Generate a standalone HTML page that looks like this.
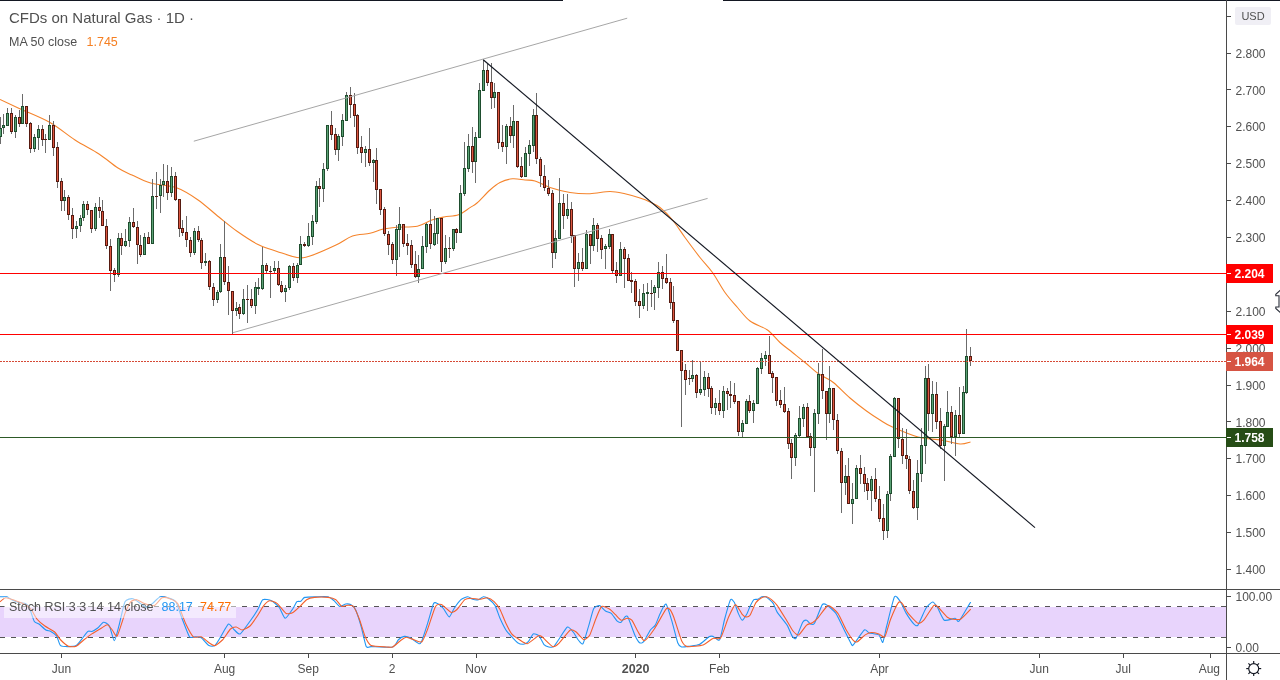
<!DOCTYPE html><html><head><meta charset="utf-8"><style>html,body{margin:0;padding:0;background:#fff;width:1280px;height:680px;overflow:hidden}svg{display:block}text{font-family:"Liberation Sans",sans-serif}svg{will-change:transform}</style></head><body>
<svg width="1280" height="680" viewBox="0 0 1280 680">
<rect x="0" y="0" width="1280" height="680" fill="#ffffff"/>
<g shape-rendering="crispEdges">
<rect x="0" y="0" width="563" height="1" fill="#131722"/>
<rect x="723" y="0" width="557" height="1" fill="#131722"/>
</g>
<path d="M0.00,99.40 C3.33,100.96 11.67,104.90 20.00,108.75 C28.33,112.60 40.83,117.29 50.00,122.50 C59.17,127.71 66.83,134.75 75.00,140.00 C83.17,145.25 91.83,149.33 99.00,154.00 C106.17,158.67 112.50,164.50 118.00,168.00 C123.50,171.50 126.57,172.50 132.00,175.00 C137.43,177.50 143.18,180.87 150.60,183.00 C158.02,185.13 168.65,185.02 176.50,187.80 C184.35,190.58 190.63,194.83 197.70,199.70 C204.77,204.57 212.28,211.70 218.90,217.00 C225.52,222.30 230.78,226.87 237.40,231.50 C244.02,236.13 252.00,241.48 258.60,244.80 C265.20,248.12 270.60,249.28 277.00,251.40 C283.40,253.52 291.50,256.73 297.00,257.50 C302.50,258.27 303.50,258.08 310.00,256.00 C316.50,253.92 328.92,248.33 336.00,245.00 C343.08,241.67 346.83,237.95 352.50,236.00 C358.17,234.05 365.03,234.43 370.00,233.30 C374.97,232.17 377.83,230.22 382.30,229.20 C386.77,228.18 390.97,227.70 396.80,227.20 C402.63,226.70 411.47,227.40 417.30,226.20 C423.13,225.00 427.35,221.53 431.80,220.00 C436.25,218.47 439.55,217.87 444.00,217.00 C448.45,216.13 454.17,216.37 458.50,214.80 C462.83,213.23 466.92,209.57 470.00,207.60 C473.08,205.63 473.67,205.93 477.00,203.00 C480.33,200.07 486.17,193.42 490.00,190.00 C493.83,186.58 496.25,184.38 500.00,182.50 C503.75,180.62 508.33,179.17 512.50,178.75 C516.67,178.33 521.25,179.62 525.00,180.00 C528.75,180.38 530.83,179.75 535.00,181.00 C539.17,182.25 544.17,185.58 550.00,187.50 C555.83,189.42 563.33,191.46 570.00,192.50 C576.67,193.54 583.33,193.92 590.00,193.75 C596.67,193.58 604.17,191.50 610.00,191.50 C615.83,191.50 620.00,192.67 625.00,193.75 C630.00,194.83 635.83,196.62 640.00,198.00 C644.17,199.38 646.67,200.42 650.00,202.00 C653.33,203.58 656.25,204.50 660.00,207.50 C663.75,210.50 668.33,215.00 672.50,220.00 C676.67,225.00 680.42,231.25 685.00,237.50 C689.58,243.75 695.42,251.67 700.00,257.50 C704.58,263.33 708.33,266.67 712.50,272.50 C716.67,278.33 720.83,286.67 725.00,292.50 C729.17,298.33 733.33,302.75 737.50,307.50 C741.67,312.25 745.00,317.25 750.00,321.00 C755.00,324.75 762.50,326.42 767.50,330.00 C772.50,333.58 775.83,338.75 780.00,342.50 C784.17,346.25 788.33,349.17 792.50,352.50 C796.67,355.83 800.83,359.08 805.00,362.50 C809.17,365.92 814.17,370.50 817.50,373.00 C820.83,375.50 822.25,375.83 825.00,377.50 C827.75,379.17 829.83,379.58 834.00,383.00 C838.17,386.42 844.58,393.33 850.00,398.00 C855.42,402.67 861.50,407.33 866.50,411.00 C871.50,414.67 875.68,417.33 880.00,420.00 C884.32,422.67 886.07,424.17 892.40,427.00 C898.73,429.83 909.90,434.83 918.00,437.00 C926.10,439.17 934.00,438.83 941.00,440.00 C948.00,441.17 955.08,443.67 960.00,444.00 C964.92,444.33 968.75,442.33 970.50,442.00" fill="none" stroke="#f5842c" stroke-width="1.1"/>
<g shape-rendering="crispEdges">
<rect x="0" y="117" width="1" height="27" fill="#6b6b6b"/>
<rect x="-1" y="128" width="3" height="9" fill="#1e4d2e"/>
<rect x="0" y="129" width="1" height="7" fill="#5aa275"/>
<rect x="3" y="114" width="1" height="20" fill="#6b6b6b"/>
<rect x="2" y="125" width="3" height="3" fill="#1e4d2e"/>
<rect x="3" y="126" width="1" height="1" fill="#5aa275"/>
<rect x="7" y="108" width="1" height="18" fill="#6b6b6b"/>
<rect x="6" y="113" width="3" height="13" fill="#1e4d2e"/>
<rect x="7" y="114" width="1" height="11" fill="#5aa275"/>
<rect x="11" y="108" width="1" height="26" fill="#6b6b6b"/>
<rect x="10" y="113" width="3" height="19" fill="#561a10"/>
<rect x="11" y="114" width="1" height="17" fill="#dc5640"/>
<rect x="15" y="115" width="1" height="23" fill="#6b6b6b"/>
<rect x="14" y="117" width="3" height="15" fill="#1e4d2e"/>
<rect x="15" y="118" width="1" height="13" fill="#5aa275"/>
<rect x="19" y="110" width="1" height="17" fill="#6b6b6b"/>
<rect x="18" y="117" width="3" height="7" fill="#561a10"/>
<rect x="19" y="118" width="1" height="5" fill="#dc5640"/>
<rect x="22" y="94" width="1" height="30" fill="#6b6b6b"/>
<rect x="21" y="106" width="3" height="18" fill="#1e4d2e"/>
<rect x="22" y="107" width="1" height="16" fill="#5aa275"/>
<rect x="26" y="106" width="1" height="21" fill="#6b6b6b"/>
<rect x="25" y="106" width="3" height="18" fill="#561a10"/>
<rect x="26" y="107" width="1" height="16" fill="#dc5640"/>
<rect x="30" y="122" width="1" height="31" fill="#6b6b6b"/>
<rect x="29" y="123" width="3" height="26" fill="#561a10"/>
<rect x="30" y="124" width="1" height="24" fill="#dc5640"/>
<rect x="34" y="134" width="1" height="18" fill="#6b6b6b"/>
<rect x="33" y="137" width="3" height="12" fill="#1e4d2e"/>
<rect x="34" y="138" width="1" height="10" fill="#5aa275"/>
<rect x="38" y="125" width="1" height="25" fill="#6b6b6b"/>
<rect x="37" y="129" width="3" height="9" fill="#1e4d2e"/>
<rect x="38" y="130" width="1" height="7" fill="#5aa275"/>
<rect x="42" y="125" width="1" height="21" fill="#6b6b6b"/>
<rect x="41" y="129" width="3" height="11" fill="#561a10"/>
<rect x="42" y="130" width="1" height="9" fill="#dc5640"/>
<rect x="45" y="134" width="1" height="19" fill="#6b6b6b"/>
<rect x="44" y="139" width="3" height="1" fill="#561a10"/>
<rect x="49" y="115" width="1" height="25" fill="#6b6b6b"/>
<rect x="48" y="125" width="3" height="15" fill="#1e4d2e"/>
<rect x="49" y="126" width="1" height="13" fill="#5aa275"/>
<rect x="53" y="121" width="1" height="35" fill="#6b6b6b"/>
<rect x="52" y="125" width="3" height="23" fill="#561a10"/>
<rect x="53" y="126" width="1" height="21" fill="#dc5640"/>
<rect x="57" y="142" width="1" height="46" fill="#6b6b6b"/>
<rect x="56" y="147" width="3" height="35" fill="#561a10"/>
<rect x="57" y="148" width="1" height="33" fill="#dc5640"/>
<rect x="61" y="178" width="1" height="33" fill="#6b6b6b"/>
<rect x="60" y="181" width="3" height="20" fill="#561a10"/>
<rect x="61" y="182" width="1" height="18" fill="#dc5640"/>
<rect x="64" y="190" width="1" height="21" fill="#6b6b6b"/>
<rect x="63" y="197" width="3" height="4" fill="#1e4d2e"/>
<rect x="64" y="198" width="1" height="2" fill="#5aa275"/>
<rect x="68" y="195" width="1" height="25" fill="#6b6b6b"/>
<rect x="67" y="197" width="3" height="18" fill="#561a10"/>
<rect x="68" y="198" width="1" height="16" fill="#dc5640"/>
<rect x="72" y="208" width="1" height="31" fill="#6b6b6b"/>
<rect x="71" y="215" width="3" height="14" fill="#561a10"/>
<rect x="72" y="216" width="1" height="12" fill="#dc5640"/>
<rect x="76" y="221" width="1" height="17" fill="#6b6b6b"/>
<rect x="75" y="226" width="3" height="3" fill="#1e4d2e"/>
<rect x="76" y="227" width="1" height="1" fill="#5aa275"/>
<rect x="80" y="215" width="1" height="17" fill="#6b6b6b"/>
<rect x="79" y="218" width="3" height="8" fill="#1e4d2e"/>
<rect x="80" y="219" width="1" height="6" fill="#5aa275"/>
<rect x="83" y="201" width="1" height="20" fill="#6b6b6b"/>
<rect x="82" y="204" width="3" height="14" fill="#1e4d2e"/>
<rect x="83" y="205" width="1" height="12" fill="#5aa275"/>
<rect x="87" y="201" width="1" height="14" fill="#6b6b6b"/>
<rect x="86" y="204" width="3" height="6" fill="#561a10"/>
<rect x="87" y="205" width="1" height="4" fill="#dc5640"/>
<rect x="91" y="210" width="1" height="23" fill="#6b6b6b"/>
<rect x="90" y="210" width="3" height="19" fill="#561a10"/>
<rect x="91" y="211" width="1" height="17" fill="#dc5640"/>
<rect x="95" y="203" width="1" height="28" fill="#6b6b6b"/>
<rect x="94" y="207" width="3" height="22" fill="#1e4d2e"/>
<rect x="95" y="208" width="1" height="20" fill="#5aa275"/>
<rect x="99" y="197" width="1" height="21" fill="#6b6b6b"/>
<rect x="98" y="207" width="3" height="4" fill="#561a10"/>
<rect x="99" y="208" width="1" height="2" fill="#dc5640"/>
<rect x="102" y="200" width="1" height="26" fill="#6b6b6b"/>
<rect x="101" y="211" width="3" height="15" fill="#561a10"/>
<rect x="102" y="212" width="1" height="13" fill="#dc5640"/>
<rect x="106" y="219" width="1" height="30" fill="#6b6b6b"/>
<rect x="105" y="226" width="3" height="20" fill="#561a10"/>
<rect x="106" y="227" width="1" height="18" fill="#dc5640"/>
<rect x="110" y="239" width="1" height="52" fill="#6b6b6b"/>
<rect x="109" y="246" width="3" height="25" fill="#561a10"/>
<rect x="110" y="247" width="1" height="23" fill="#dc5640"/>
<rect x="114" y="268" width="1" height="14" fill="#6b6b6b"/>
<rect x="113" y="270" width="3" height="5" fill="#561a10"/>
<rect x="114" y="271" width="1" height="3" fill="#dc5640"/>
<rect x="118" y="233" width="1" height="44" fill="#6b6b6b"/>
<rect x="117" y="238" width="3" height="37" fill="#1e4d2e"/>
<rect x="118" y="239" width="1" height="35" fill="#5aa275"/>
<rect x="121" y="233" width="1" height="22" fill="#6b6b6b"/>
<rect x="120" y="238" width="3" height="8" fill="#561a10"/>
<rect x="121" y="239" width="1" height="6" fill="#dc5640"/>
<rect x="125" y="229" width="1" height="18" fill="#6b6b6b"/>
<rect x="124" y="241" width="3" height="5" fill="#1e4d2e"/>
<rect x="125" y="242" width="1" height="3" fill="#5aa275"/>
<rect x="129" y="217" width="1" height="30" fill="#6b6b6b"/>
<rect x="128" y="222" width="3" height="19" fill="#1e4d2e"/>
<rect x="129" y="223" width="1" height="17" fill="#5aa275"/>
<rect x="133" y="208" width="1" height="20" fill="#6b6b6b"/>
<rect x="132" y="222" width="3" height="5" fill="#561a10"/>
<rect x="133" y="223" width="1" height="3" fill="#dc5640"/>
<rect x="137" y="221" width="1" height="43" fill="#6b6b6b"/>
<rect x="136" y="227" width="3" height="18" fill="#561a10"/>
<rect x="137" y="228" width="1" height="16" fill="#dc5640"/>
<rect x="140" y="235" width="1" height="22" fill="#6b6b6b"/>
<rect x="139" y="245" width="3" height="10" fill="#561a10"/>
<rect x="140" y="246" width="1" height="8" fill="#dc5640"/>
<rect x="144" y="233" width="1" height="22" fill="#6b6b6b"/>
<rect x="143" y="237" width="3" height="18" fill="#1e4d2e"/>
<rect x="144" y="238" width="1" height="16" fill="#5aa275"/>
<rect x="148" y="232" width="1" height="12" fill="#6b6b6b"/>
<rect x="147" y="237" width="3" height="7" fill="#561a10"/>
<rect x="148" y="238" width="1" height="5" fill="#dc5640"/>
<rect x="152" y="179" width="1" height="65" fill="#6b6b6b"/>
<rect x="151" y="196" width="3" height="48" fill="#1e4d2e"/>
<rect x="152" y="197" width="1" height="46" fill="#5aa275"/>
<rect x="156" y="172" width="1" height="37" fill="#6b6b6b"/>
<rect x="155" y="196" width="3" height="1" fill="#561a10"/>
<rect x="160" y="179" width="1" height="34" fill="#6b6b6b"/>
<rect x="159" y="185" width="3" height="11" fill="#1e4d2e"/>
<rect x="160" y="186" width="1" height="9" fill="#5aa275"/>
<rect x="163" y="164" width="1" height="33" fill="#6b6b6b"/>
<rect x="162" y="181" width="3" height="4" fill="#1e4d2e"/>
<rect x="163" y="182" width="1" height="2" fill="#5aa275"/>
<rect x="167" y="165" width="1" height="35" fill="#6b6b6b"/>
<rect x="166" y="181" width="3" height="12" fill="#561a10"/>
<rect x="167" y="182" width="1" height="10" fill="#dc5640"/>
<rect x="171" y="167" width="1" height="30" fill="#6b6b6b"/>
<rect x="170" y="176" width="3" height="17" fill="#1e4d2e"/>
<rect x="171" y="177" width="1" height="15" fill="#5aa275"/>
<rect x="175" y="172" width="1" height="29" fill="#6b6b6b"/>
<rect x="174" y="176" width="3" height="24" fill="#561a10"/>
<rect x="175" y="177" width="1" height="22" fill="#dc5640"/>
<rect x="179" y="199" width="1" height="38" fill="#6b6b6b"/>
<rect x="178" y="199" width="3" height="30" fill="#561a10"/>
<rect x="179" y="200" width="1" height="28" fill="#dc5640"/>
<rect x="182" y="220" width="1" height="16" fill="#6b6b6b"/>
<rect x="181" y="228" width="3" height="5" fill="#561a10"/>
<rect x="182" y="229" width="1" height="3" fill="#dc5640"/>
<rect x="186" y="216" width="1" height="31" fill="#6b6b6b"/>
<rect x="185" y="232" width="3" height="8" fill="#561a10"/>
<rect x="186" y="233" width="1" height="6" fill="#dc5640"/>
<rect x="190" y="237" width="1" height="20" fill="#6b6b6b"/>
<rect x="189" y="240" width="3" height="13" fill="#561a10"/>
<rect x="190" y="241" width="1" height="11" fill="#dc5640"/>
<rect x="194" y="228" width="1" height="27" fill="#6b6b6b"/>
<rect x="193" y="231" width="3" height="22" fill="#1e4d2e"/>
<rect x="194" y="232" width="1" height="20" fill="#5aa275"/>
<rect x="198" y="226" width="1" height="16" fill="#6b6b6b"/>
<rect x="197" y="231" width="3" height="9" fill="#561a10"/>
<rect x="198" y="232" width="1" height="7" fill="#dc5640"/>
<rect x="201" y="238" width="1" height="31" fill="#6b6b6b"/>
<rect x="200" y="240" width="3" height="23" fill="#561a10"/>
<rect x="201" y="241" width="1" height="21" fill="#dc5640"/>
<rect x="205" y="253" width="1" height="13" fill="#6b6b6b"/>
<rect x="204" y="261" width="3" height="2" fill="#1e4d2e"/>
<rect x="209" y="260" width="1" height="30" fill="#6b6b6b"/>
<rect x="208" y="261" width="3" height="26" fill="#561a10"/>
<rect x="209" y="262" width="1" height="24" fill="#dc5640"/>
<rect x="213" y="283" width="1" height="23" fill="#6b6b6b"/>
<rect x="212" y="287" width="3" height="13" fill="#561a10"/>
<rect x="213" y="288" width="1" height="11" fill="#dc5640"/>
<rect x="217" y="290" width="1" height="13" fill="#6b6b6b"/>
<rect x="216" y="292" width="3" height="8" fill="#1e4d2e"/>
<rect x="217" y="293" width="1" height="6" fill="#5aa275"/>
<rect x="220" y="244" width="1" height="49" fill="#6b6b6b"/>
<rect x="219" y="257" width="3" height="35" fill="#1e4d2e"/>
<rect x="220" y="258" width="1" height="33" fill="#5aa275"/>
<rect x="224" y="221" width="1" height="64" fill="#6b6b6b"/>
<rect x="223" y="257" width="3" height="25" fill="#561a10"/>
<rect x="224" y="258" width="1" height="23" fill="#dc5640"/>
<rect x="228" y="266" width="1" height="49" fill="#6b6b6b"/>
<rect x="227" y="282" width="3" height="9" fill="#561a10"/>
<rect x="228" y="283" width="1" height="7" fill="#dc5640"/>
<rect x="232" y="291" width="1" height="43" fill="#6b6b6b"/>
<rect x="231" y="291" width="3" height="20" fill="#561a10"/>
<rect x="232" y="292" width="1" height="18" fill="#dc5640"/>
<rect x="236" y="302" width="1" height="14" fill="#6b6b6b"/>
<rect x="235" y="308" width="3" height="3" fill="#1e4d2e"/>
<rect x="236" y="309" width="1" height="1" fill="#5aa275"/>
<rect x="239" y="304" width="1" height="15" fill="#6b6b6b"/>
<rect x="238" y="307" width="3" height="7" fill="#561a10"/>
<rect x="239" y="308" width="1" height="5" fill="#dc5640"/>
<rect x="243" y="289" width="1" height="26" fill="#6b6b6b"/>
<rect x="242" y="299" width="3" height="15" fill="#1e4d2e"/>
<rect x="243" y="300" width="1" height="13" fill="#5aa275"/>
<rect x="247" y="285" width="1" height="38" fill="#6b6b6b"/>
<rect x="246" y="299" width="3" height="1" fill="#561a10"/>
<rect x="251" y="289" width="1" height="19" fill="#6b6b6b"/>
<rect x="250" y="299" width="3" height="7" fill="#561a10"/>
<rect x="251" y="300" width="1" height="5" fill="#dc5640"/>
<rect x="255" y="282" width="1" height="32" fill="#6b6b6b"/>
<rect x="254" y="287" width="3" height="19" fill="#1e4d2e"/>
<rect x="255" y="288" width="1" height="17" fill="#5aa275"/>
<rect x="258" y="278" width="1" height="17" fill="#6b6b6b"/>
<rect x="257" y="287" width="3" height="2" fill="#1e4d2e"/>
<rect x="262" y="247" width="1" height="43" fill="#6b6b6b"/>
<rect x="261" y="265" width="3" height="24" fill="#1e4d2e"/>
<rect x="262" y="266" width="1" height="22" fill="#5aa275"/>
<rect x="266" y="263" width="1" height="11" fill="#6b6b6b"/>
<rect x="265" y="265" width="3" height="6" fill="#561a10"/>
<rect x="266" y="266" width="1" height="4" fill="#dc5640"/>
<rect x="270" y="266" width="1" height="32" fill="#6b6b6b"/>
<rect x="269" y="271" width="3" height="1" fill="#561a10"/>
<rect x="274" y="261" width="1" height="13" fill="#6b6b6b"/>
<rect x="273" y="268" width="3" height="3" fill="#1e4d2e"/>
<rect x="274" y="269" width="1" height="1" fill="#5aa275"/>
<rect x="278" y="261" width="1" height="25" fill="#6b6b6b"/>
<rect x="277" y="268" width="3" height="17" fill="#561a10"/>
<rect x="278" y="269" width="1" height="15" fill="#dc5640"/>
<rect x="281" y="281" width="1" height="12" fill="#6b6b6b"/>
<rect x="280" y="285" width="3" height="7" fill="#561a10"/>
<rect x="281" y="286" width="1" height="5" fill="#dc5640"/>
<rect x="285" y="285" width="1" height="17" fill="#6b6b6b"/>
<rect x="284" y="288" width="3" height="4" fill="#1e4d2e"/>
<rect x="285" y="289" width="1" height="2" fill="#5aa275"/>
<rect x="289" y="265" width="1" height="25" fill="#6b6b6b"/>
<rect x="288" y="266" width="3" height="22" fill="#1e4d2e"/>
<rect x="289" y="267" width="1" height="20" fill="#5aa275"/>
<rect x="293" y="263" width="1" height="18" fill="#6b6b6b"/>
<rect x="292" y="266" width="3" height="12" fill="#561a10"/>
<rect x="293" y="267" width="1" height="10" fill="#dc5640"/>
<rect x="297" y="263" width="1" height="20" fill="#6b6b6b"/>
<rect x="296" y="265" width="3" height="13" fill="#1e4d2e"/>
<rect x="297" y="266" width="1" height="11" fill="#5aa275"/>
<rect x="300" y="236" width="1" height="29" fill="#6b6b6b"/>
<rect x="299" y="244" width="3" height="21" fill="#1e4d2e"/>
<rect x="300" y="245" width="1" height="19" fill="#5aa275"/>
<rect x="304" y="242" width="1" height="5" fill="#6b6b6b"/>
<rect x="303" y="244" width="3" height="2" fill="#561a10"/>
<rect x="308" y="223" width="1" height="24" fill="#6b6b6b"/>
<rect x="307" y="236" width="3" height="10" fill="#1e4d2e"/>
<rect x="308" y="237" width="1" height="8" fill="#5aa275"/>
<rect x="312" y="215" width="1" height="30" fill="#6b6b6b"/>
<rect x="311" y="221" width="3" height="16" fill="#1e4d2e"/>
<rect x="312" y="222" width="1" height="14" fill="#5aa275"/>
<rect x="316" y="181" width="1" height="43" fill="#6b6b6b"/>
<rect x="315" y="186" width="3" height="36" fill="#1e4d2e"/>
<rect x="316" y="187" width="1" height="34" fill="#5aa275"/>
<rect x="319" y="178" width="1" height="29" fill="#6b6b6b"/>
<rect x="318" y="186" width="3" height="3" fill="#561a10"/>
<rect x="319" y="187" width="1" height="1" fill="#dc5640"/>
<rect x="323" y="163" width="1" height="39" fill="#6b6b6b"/>
<rect x="322" y="169" width="3" height="20" fill="#1e4d2e"/>
<rect x="323" y="170" width="1" height="18" fill="#5aa275"/>
<rect x="327" y="125" width="1" height="46" fill="#6b6b6b"/>
<rect x="326" y="125" width="3" height="44" fill="#1e4d2e"/>
<rect x="327" y="126" width="1" height="42" fill="#5aa275"/>
<rect x="331" y="111" width="1" height="29" fill="#6b6b6b"/>
<rect x="330" y="125" width="3" height="10" fill="#561a10"/>
<rect x="331" y="126" width="1" height="8" fill="#dc5640"/>
<rect x="335" y="128" width="1" height="27" fill="#6b6b6b"/>
<rect x="334" y="134" width="3" height="16" fill="#561a10"/>
<rect x="335" y="135" width="1" height="14" fill="#dc5640"/>
<rect x="338" y="134" width="1" height="27" fill="#6b6b6b"/>
<rect x="337" y="136" width="3" height="14" fill="#1e4d2e"/>
<rect x="338" y="137" width="1" height="12" fill="#5aa275"/>
<rect x="342" y="114" width="1" height="32" fill="#6b6b6b"/>
<rect x="341" y="120" width="3" height="17" fill="#1e4d2e"/>
<rect x="342" y="121" width="1" height="15" fill="#5aa275"/>
<rect x="346" y="92" width="1" height="29" fill="#6b6b6b"/>
<rect x="345" y="95" width="3" height="26" fill="#1e4d2e"/>
<rect x="346" y="96" width="1" height="24" fill="#5aa275"/>
<rect x="350" y="87" width="1" height="31" fill="#6b6b6b"/>
<rect x="349" y="95" width="3" height="10" fill="#561a10"/>
<rect x="350" y="96" width="1" height="8" fill="#dc5640"/>
<rect x="354" y="93" width="1" height="34" fill="#6b6b6b"/>
<rect x="353" y="104" width="3" height="12" fill="#561a10"/>
<rect x="354" y="105" width="1" height="10" fill="#dc5640"/>
<rect x="357" y="114" width="1" height="40" fill="#6b6b6b"/>
<rect x="356" y="115" width="3" height="33" fill="#561a10"/>
<rect x="357" y="116" width="1" height="31" fill="#dc5640"/>
<rect x="361" y="136" width="1" height="27" fill="#6b6b6b"/>
<rect x="360" y="147" width="3" height="6" fill="#561a10"/>
<rect x="361" y="148" width="1" height="4" fill="#dc5640"/>
<rect x="365" y="146" width="1" height="21" fill="#6b6b6b"/>
<rect x="364" y="149" width="3" height="4" fill="#1e4d2e"/>
<rect x="365" y="150" width="1" height="2" fill="#5aa275"/>
<rect x="369" y="128" width="1" height="38" fill="#6b6b6b"/>
<rect x="368" y="149" width="3" height="14" fill="#561a10"/>
<rect x="369" y="150" width="1" height="12" fill="#dc5640"/>
<rect x="373" y="159" width="1" height="23" fill="#6b6b6b"/>
<rect x="372" y="160" width="3" height="3" fill="#1e4d2e"/>
<rect x="373" y="161" width="1" height="1" fill="#5aa275"/>
<rect x="376" y="148" width="1" height="56" fill="#6b6b6b"/>
<rect x="375" y="160" width="3" height="30" fill="#561a10"/>
<rect x="376" y="161" width="1" height="28" fill="#dc5640"/>
<rect x="380" y="189" width="1" height="26" fill="#6b6b6b"/>
<rect x="379" y="189" width="3" height="21" fill="#561a10"/>
<rect x="380" y="190" width="1" height="19" fill="#dc5640"/>
<rect x="384" y="207" width="1" height="29" fill="#6b6b6b"/>
<rect x="383" y="209" width="3" height="25" fill="#561a10"/>
<rect x="384" y="210" width="1" height="23" fill="#dc5640"/>
<rect x="388" y="231" width="1" height="24" fill="#6b6b6b"/>
<rect x="387" y="234" width="3" height="11" fill="#561a10"/>
<rect x="388" y="235" width="1" height="9" fill="#dc5640"/>
<rect x="392" y="242" width="1" height="22" fill="#6b6b6b"/>
<rect x="391" y="244" width="3" height="16" fill="#561a10"/>
<rect x="392" y="245" width="1" height="14" fill="#dc5640"/>
<rect x="396" y="225" width="1" height="51" fill="#6b6b6b"/>
<rect x="395" y="229" width="3" height="31" fill="#1e4d2e"/>
<rect x="396" y="230" width="1" height="29" fill="#5aa275"/>
<rect x="399" y="207" width="1" height="50" fill="#6b6b6b"/>
<rect x="398" y="224" width="3" height="6" fill="#1e4d2e"/>
<rect x="399" y="225" width="1" height="4" fill="#5aa275"/>
<rect x="403" y="224" width="1" height="23" fill="#6b6b6b"/>
<rect x="402" y="224" width="3" height="20" fill="#561a10"/>
<rect x="403" y="225" width="1" height="18" fill="#dc5640"/>
<rect x="407" y="234" width="1" height="21" fill="#6b6b6b"/>
<rect x="406" y="243" width="3" height="3" fill="#561a10"/>
<rect x="407" y="244" width="1" height="1" fill="#dc5640"/>
<rect x="411" y="240" width="1" height="28" fill="#6b6b6b"/>
<rect x="410" y="245" width="3" height="20" fill="#561a10"/>
<rect x="411" y="246" width="1" height="18" fill="#dc5640"/>
<rect x="415" y="251" width="1" height="27" fill="#6b6b6b"/>
<rect x="414" y="264" width="3" height="13" fill="#561a10"/>
<rect x="415" y="265" width="1" height="11" fill="#dc5640"/>
<rect x="418" y="255" width="1" height="28" fill="#6b6b6b"/>
<rect x="417" y="269" width="3" height="8" fill="#1e4d2e"/>
<rect x="418" y="270" width="1" height="6" fill="#5aa275"/>
<rect x="422" y="236" width="1" height="33" fill="#6b6b6b"/>
<rect x="421" y="246" width="3" height="23" fill="#1e4d2e"/>
<rect x="422" y="247" width="1" height="21" fill="#5aa275"/>
<rect x="426" y="223" width="1" height="30" fill="#6b6b6b"/>
<rect x="425" y="224" width="3" height="23" fill="#1e4d2e"/>
<rect x="426" y="225" width="1" height="21" fill="#5aa275"/>
<rect x="430" y="209" width="1" height="40" fill="#6b6b6b"/>
<rect x="429" y="224" width="3" height="20" fill="#561a10"/>
<rect x="430" y="225" width="1" height="18" fill="#dc5640"/>
<rect x="434" y="216" width="1" height="30" fill="#6b6b6b"/>
<rect x="433" y="233" width="3" height="12" fill="#1e4d2e"/>
<rect x="434" y="234" width="1" height="10" fill="#5aa275"/>
<rect x="437" y="218" width="1" height="26" fill="#6b6b6b"/>
<rect x="436" y="218" width="3" height="16" fill="#1e4d2e"/>
<rect x="437" y="219" width="1" height="14" fill="#5aa275"/>
<rect x="441" y="218" width="1" height="54" fill="#6b6b6b"/>
<rect x="440" y="218" width="3" height="44" fill="#561a10"/>
<rect x="441" y="219" width="1" height="42" fill="#dc5640"/>
<rect x="445" y="235" width="1" height="29" fill="#6b6b6b"/>
<rect x="444" y="248" width="3" height="14" fill="#1e4d2e"/>
<rect x="445" y="249" width="1" height="12" fill="#5aa275"/>
<rect x="449" y="237" width="1" height="21" fill="#6b6b6b"/>
<rect x="448" y="248" width="3" height="1" fill="#561a10"/>
<rect x="453" y="229" width="1" height="22" fill="#6b6b6b"/>
<rect x="452" y="229" width="3" height="20" fill="#1e4d2e"/>
<rect x="453" y="230" width="1" height="18" fill="#5aa275"/>
<rect x="456" y="228" width="1" height="15" fill="#6b6b6b"/>
<rect x="455" y="229" width="3" height="4" fill="#561a10"/>
<rect x="456" y="230" width="1" height="2" fill="#dc5640"/>
<rect x="460" y="185" width="1" height="48" fill="#6b6b6b"/>
<rect x="459" y="193" width="3" height="40" fill="#1e4d2e"/>
<rect x="460" y="194" width="1" height="38" fill="#5aa275"/>
<rect x="464" y="142" width="1" height="54" fill="#6b6b6b"/>
<rect x="463" y="168" width="3" height="26" fill="#1e4d2e"/>
<rect x="464" y="169" width="1" height="24" fill="#5aa275"/>
<rect x="468" y="134" width="1" height="38" fill="#6b6b6b"/>
<rect x="467" y="146" width="3" height="23" fill="#1e4d2e"/>
<rect x="468" y="147" width="1" height="21" fill="#5aa275"/>
<rect x="472" y="127" width="1" height="46" fill="#6b6b6b"/>
<rect x="471" y="146" width="3" height="16" fill="#561a10"/>
<rect x="472" y="147" width="1" height="14" fill="#dc5640"/>
<rect x="475" y="132" width="1" height="51" fill="#6b6b6b"/>
<rect x="474" y="137" width="3" height="25" fill="#1e4d2e"/>
<rect x="475" y="138" width="1" height="23" fill="#5aa275"/>
<rect x="479" y="83" width="1" height="55" fill="#6b6b6b"/>
<rect x="478" y="90" width="3" height="48" fill="#1e4d2e"/>
<rect x="479" y="91" width="1" height="46" fill="#5aa275"/>
<rect x="483" y="60" width="1" height="31" fill="#6b6b6b"/>
<rect x="482" y="70" width="3" height="21" fill="#1e4d2e"/>
<rect x="483" y="71" width="1" height="19" fill="#5aa275"/>
<rect x="487" y="64" width="1" height="22" fill="#6b6b6b"/>
<rect x="486" y="70" width="3" height="13" fill="#561a10"/>
<rect x="487" y="71" width="1" height="11" fill="#dc5640"/>
<rect x="491" y="63" width="1" height="46" fill="#6b6b6b"/>
<rect x="490" y="82" width="3" height="16" fill="#561a10"/>
<rect x="491" y="83" width="1" height="14" fill="#dc5640"/>
<rect x="494" y="83" width="1" height="25" fill="#6b6b6b"/>
<rect x="493" y="92" width="3" height="6" fill="#1e4d2e"/>
<rect x="494" y="93" width="1" height="4" fill="#5aa275"/>
<rect x="498" y="92" width="1" height="57" fill="#6b6b6b"/>
<rect x="497" y="92" width="3" height="51" fill="#561a10"/>
<rect x="498" y="93" width="1" height="49" fill="#dc5640"/>
<rect x="502" y="125" width="1" height="27" fill="#6b6b6b"/>
<rect x="501" y="142" width="3" height="5" fill="#561a10"/>
<rect x="502" y="143" width="1" height="3" fill="#dc5640"/>
<rect x="506" y="124" width="1" height="40" fill="#6b6b6b"/>
<rect x="505" y="126" width="3" height="21" fill="#1e4d2e"/>
<rect x="506" y="127" width="1" height="19" fill="#5aa275"/>
<rect x="510" y="117" width="1" height="26" fill="#6b6b6b"/>
<rect x="509" y="126" width="3" height="10" fill="#561a10"/>
<rect x="510" y="127" width="1" height="8" fill="#dc5640"/>
<rect x="513" y="105" width="1" height="43" fill="#6b6b6b"/>
<rect x="512" y="121" width="3" height="15" fill="#1e4d2e"/>
<rect x="513" y="122" width="1" height="13" fill="#5aa275"/>
<rect x="517" y="121" width="1" height="47" fill="#6b6b6b"/>
<rect x="516" y="121" width="3" height="46" fill="#561a10"/>
<rect x="517" y="122" width="1" height="44" fill="#dc5640"/>
<rect x="521" y="157" width="1" height="21" fill="#6b6b6b"/>
<rect x="520" y="166" width="3" height="11" fill="#561a10"/>
<rect x="521" y="167" width="1" height="9" fill="#dc5640"/>
<rect x="525" y="147" width="1" height="30" fill="#6b6b6b"/>
<rect x="524" y="153" width="3" height="24" fill="#1e4d2e"/>
<rect x="525" y="154" width="1" height="22" fill="#5aa275"/>
<rect x="529" y="140" width="1" height="26" fill="#6b6b6b"/>
<rect x="528" y="145" width="3" height="9" fill="#1e4d2e"/>
<rect x="529" y="146" width="1" height="7" fill="#5aa275"/>
<rect x="533" y="109" width="1" height="43" fill="#6b6b6b"/>
<rect x="532" y="115" width="3" height="31" fill="#1e4d2e"/>
<rect x="533" y="116" width="1" height="29" fill="#5aa275"/>
<rect x="536" y="93" width="1" height="71" fill="#6b6b6b"/>
<rect x="535" y="115" width="3" height="44" fill="#561a10"/>
<rect x="536" y="116" width="1" height="42" fill="#dc5640"/>
<rect x="540" y="157" width="1" height="30" fill="#6b6b6b"/>
<rect x="539" y="159" width="3" height="17" fill="#561a10"/>
<rect x="540" y="160" width="1" height="15" fill="#dc5640"/>
<rect x="544" y="165" width="1" height="26" fill="#6b6b6b"/>
<rect x="543" y="176" width="3" height="12" fill="#561a10"/>
<rect x="544" y="177" width="1" height="10" fill="#dc5640"/>
<rect x="548" y="180" width="1" height="16" fill="#6b6b6b"/>
<rect x="547" y="188" width="3" height="6" fill="#561a10"/>
<rect x="548" y="189" width="1" height="4" fill="#dc5640"/>
<rect x="552" y="190" width="1" height="78" fill="#6b6b6b"/>
<rect x="551" y="193" width="3" height="60" fill="#561a10"/>
<rect x="552" y="194" width="1" height="58" fill="#dc5640"/>
<rect x="555" y="230" width="1" height="29" fill="#6b6b6b"/>
<rect x="554" y="238" width="3" height="15" fill="#1e4d2e"/>
<rect x="555" y="239" width="1" height="13" fill="#5aa275"/>
<rect x="559" y="178" width="1" height="61" fill="#6b6b6b"/>
<rect x="558" y="203" width="3" height="36" fill="#1e4d2e"/>
<rect x="559" y="204" width="1" height="34" fill="#5aa275"/>
<rect x="563" y="194" width="1" height="35" fill="#6b6b6b"/>
<rect x="562" y="203" width="3" height="13" fill="#561a10"/>
<rect x="563" y="204" width="1" height="11" fill="#dc5640"/>
<rect x="567" y="194" width="1" height="25" fill="#6b6b6b"/>
<rect x="566" y="209" width="3" height="7" fill="#1e4d2e"/>
<rect x="567" y="210" width="1" height="5" fill="#5aa275"/>
<rect x="571" y="202" width="1" height="41" fill="#6b6b6b"/>
<rect x="570" y="209" width="3" height="27" fill="#561a10"/>
<rect x="571" y="210" width="1" height="25" fill="#dc5640"/>
<rect x="574" y="235" width="1" height="52" fill="#6b6b6b"/>
<rect x="573" y="235" width="3" height="34" fill="#561a10"/>
<rect x="574" y="236" width="1" height="32" fill="#dc5640"/>
<rect x="578" y="253" width="1" height="28" fill="#6b6b6b"/>
<rect x="577" y="262" width="3" height="7" fill="#1e4d2e"/>
<rect x="578" y="263" width="1" height="5" fill="#5aa275"/>
<rect x="582" y="248" width="1" height="23" fill="#6b6b6b"/>
<rect x="581" y="262" width="3" height="7" fill="#561a10"/>
<rect x="582" y="263" width="1" height="5" fill="#dc5640"/>
<rect x="586" y="230" width="1" height="39" fill="#6b6b6b"/>
<rect x="585" y="234" width="3" height="35" fill="#1e4d2e"/>
<rect x="586" y="235" width="1" height="33" fill="#5aa275"/>
<rect x="590" y="234" width="1" height="30" fill="#6b6b6b"/>
<rect x="589" y="234" width="3" height="12" fill="#561a10"/>
<rect x="590" y="235" width="1" height="10" fill="#dc5640"/>
<rect x="593" y="218" width="1" height="33" fill="#6b6b6b"/>
<rect x="592" y="225" width="3" height="21" fill="#1e4d2e"/>
<rect x="593" y="226" width="1" height="19" fill="#5aa275"/>
<rect x="597" y="223" width="1" height="29" fill="#6b6b6b"/>
<rect x="596" y="225" width="3" height="14" fill="#561a10"/>
<rect x="597" y="226" width="1" height="12" fill="#dc5640"/>
<rect x="601" y="235" width="1" height="24" fill="#6b6b6b"/>
<rect x="600" y="238" width="3" height="12" fill="#561a10"/>
<rect x="601" y="239" width="1" height="10" fill="#dc5640"/>
<rect x="605" y="244" width="1" height="25" fill="#6b6b6b"/>
<rect x="604" y="246" width="3" height="3" fill="#1e4d2e"/>
<rect x="605" y="247" width="1" height="1" fill="#5aa275"/>
<rect x="609" y="229" width="1" height="20" fill="#6b6b6b"/>
<rect x="608" y="234" width="3" height="13" fill="#1e4d2e"/>
<rect x="609" y="235" width="1" height="11" fill="#5aa275"/>
<rect x="612" y="234" width="1" height="39" fill="#6b6b6b"/>
<rect x="611" y="234" width="3" height="37" fill="#561a10"/>
<rect x="612" y="235" width="1" height="35" fill="#dc5640"/>
<rect x="616" y="262" width="1" height="21" fill="#6b6b6b"/>
<rect x="615" y="270" width="3" height="6" fill="#561a10"/>
<rect x="616" y="271" width="1" height="4" fill="#dc5640"/>
<rect x="620" y="242" width="1" height="34" fill="#6b6b6b"/>
<rect x="619" y="249" width="3" height="27" fill="#1e4d2e"/>
<rect x="620" y="250" width="1" height="25" fill="#5aa275"/>
<rect x="624" y="247" width="1" height="41" fill="#6b6b6b"/>
<rect x="623" y="249" width="3" height="10" fill="#561a10"/>
<rect x="624" y="250" width="1" height="8" fill="#dc5640"/>
<rect x="628" y="254" width="1" height="27" fill="#6b6b6b"/>
<rect x="627" y="258" width="3" height="23" fill="#561a10"/>
<rect x="628" y="259" width="1" height="21" fill="#dc5640"/>
<rect x="631" y="272" width="1" height="21" fill="#6b6b6b"/>
<rect x="630" y="280" width="3" height="2" fill="#561a10"/>
<rect x="635" y="279" width="1" height="27" fill="#6b6b6b"/>
<rect x="634" y="281" width="3" height="21" fill="#561a10"/>
<rect x="635" y="282" width="1" height="19" fill="#dc5640"/>
<rect x="639" y="289" width="1" height="29" fill="#6b6b6b"/>
<rect x="638" y="301" width="3" height="5" fill="#561a10"/>
<rect x="639" y="302" width="1" height="3" fill="#dc5640"/>
<rect x="643" y="284" width="1" height="25" fill="#6b6b6b"/>
<rect x="642" y="293" width="3" height="13" fill="#1e4d2e"/>
<rect x="643" y="294" width="1" height="11" fill="#5aa275"/>
<rect x="647" y="283" width="1" height="28" fill="#6b6b6b"/>
<rect x="646" y="292" width="3" height="2" fill="#1e4d2e"/>
<rect x="651" y="280" width="1" height="27" fill="#6b6b6b"/>
<rect x="650" y="293" width="3" height="1" fill="#561a10"/>
<rect x="654" y="285" width="1" height="25" fill="#6b6b6b"/>
<rect x="653" y="287" width="3" height="6" fill="#1e4d2e"/>
<rect x="654" y="288" width="1" height="4" fill="#5aa275"/>
<rect x="658" y="262" width="1" height="36" fill="#6b6b6b"/>
<rect x="657" y="272" width="3" height="16" fill="#1e4d2e"/>
<rect x="658" y="273" width="1" height="14" fill="#5aa275"/>
<rect x="662" y="266" width="1" height="23" fill="#6b6b6b"/>
<rect x="661" y="272" width="3" height="7" fill="#561a10"/>
<rect x="662" y="273" width="1" height="5" fill="#dc5640"/>
<rect x="666" y="254" width="1" height="30" fill="#6b6b6b"/>
<rect x="665" y="278" width="3" height="5" fill="#561a10"/>
<rect x="666" y="279" width="1" height="3" fill="#dc5640"/>
<rect x="670" y="278" width="1" height="31" fill="#6b6b6b"/>
<rect x="669" y="282" width="3" height="21" fill="#561a10"/>
<rect x="670" y="283" width="1" height="19" fill="#dc5640"/>
<rect x="673" y="286" width="1" height="37" fill="#6b6b6b"/>
<rect x="672" y="302" width="3" height="19" fill="#561a10"/>
<rect x="673" y="303" width="1" height="17" fill="#dc5640"/>
<rect x="677" y="320" width="1" height="31" fill="#6b6b6b"/>
<rect x="676" y="320" width="3" height="31" fill="#561a10"/>
<rect x="677" y="321" width="1" height="29" fill="#dc5640"/>
<rect x="681" y="350" width="1" height="77" fill="#6b6b6b"/>
<rect x="680" y="350" width="3" height="21" fill="#561a10"/>
<rect x="681" y="351" width="1" height="19" fill="#dc5640"/>
<rect x="685" y="364" width="1" height="31" fill="#6b6b6b"/>
<rect x="684" y="370" width="3" height="10" fill="#561a10"/>
<rect x="685" y="371" width="1" height="8" fill="#dc5640"/>
<rect x="689" y="370" width="1" height="15" fill="#6b6b6b"/>
<rect x="688" y="378" width="3" height="1" fill="#561a10"/>
<rect x="692" y="360" width="1" height="22" fill="#6b6b6b"/>
<rect x="691" y="375" width="3" height="4" fill="#1e4d2e"/>
<rect x="692" y="376" width="1" height="2" fill="#5aa275"/>
<rect x="696" y="374" width="1" height="24" fill="#6b6b6b"/>
<rect x="695" y="375" width="3" height="18" fill="#561a10"/>
<rect x="696" y="376" width="1" height="16" fill="#dc5640"/>
<rect x="700" y="362" width="1" height="33" fill="#6b6b6b"/>
<rect x="699" y="389" width="3" height="4" fill="#1e4d2e"/>
<rect x="700" y="390" width="1" height="2" fill="#5aa275"/>
<rect x="704" y="371" width="1" height="25" fill="#6b6b6b"/>
<rect x="703" y="377" width="3" height="13" fill="#1e4d2e"/>
<rect x="704" y="378" width="1" height="11" fill="#5aa275"/>
<rect x="708" y="373" width="1" height="24" fill="#6b6b6b"/>
<rect x="707" y="377" width="3" height="12" fill="#561a10"/>
<rect x="708" y="378" width="1" height="10" fill="#dc5640"/>
<rect x="711" y="386" width="1" height="28" fill="#6b6b6b"/>
<rect x="710" y="388" width="3" height="20" fill="#561a10"/>
<rect x="711" y="389" width="1" height="18" fill="#dc5640"/>
<rect x="715" y="398" width="1" height="17" fill="#6b6b6b"/>
<rect x="714" y="403" width="3" height="5" fill="#1e4d2e"/>
<rect x="715" y="404" width="1" height="3" fill="#5aa275"/>
<rect x="719" y="390" width="1" height="25" fill="#6b6b6b"/>
<rect x="718" y="403" width="3" height="8" fill="#561a10"/>
<rect x="719" y="404" width="1" height="6" fill="#dc5640"/>
<rect x="723" y="386" width="1" height="32" fill="#6b6b6b"/>
<rect x="722" y="391" width="3" height="20" fill="#1e4d2e"/>
<rect x="723" y="392" width="1" height="18" fill="#5aa275"/>
<rect x="727" y="388" width="1" height="22" fill="#6b6b6b"/>
<rect x="726" y="391" width="3" height="3" fill="#561a10"/>
<rect x="727" y="392" width="1" height="1" fill="#dc5640"/>
<rect x="730" y="381" width="1" height="27" fill="#6b6b6b"/>
<rect x="729" y="394" width="3" height="2" fill="#561a10"/>
<rect x="734" y="383" width="1" height="21" fill="#6b6b6b"/>
<rect x="733" y="395" width="3" height="7" fill="#561a10"/>
<rect x="734" y="396" width="1" height="5" fill="#dc5640"/>
<rect x="738" y="401" width="1" height="35" fill="#6b6b6b"/>
<rect x="737" y="401" width="3" height="31" fill="#561a10"/>
<rect x="738" y="402" width="1" height="29" fill="#dc5640"/>
<rect x="742" y="420" width="1" height="18" fill="#6b6b6b"/>
<rect x="741" y="423" width="3" height="9" fill="#1e4d2e"/>
<rect x="742" y="424" width="1" height="7" fill="#5aa275"/>
<rect x="746" y="399" width="1" height="25" fill="#6b6b6b"/>
<rect x="745" y="401" width="3" height="23" fill="#1e4d2e"/>
<rect x="746" y="402" width="1" height="21" fill="#5aa275"/>
<rect x="749" y="395" width="1" height="18" fill="#6b6b6b"/>
<rect x="748" y="401" width="3" height="10" fill="#561a10"/>
<rect x="749" y="402" width="1" height="8" fill="#dc5640"/>
<rect x="753" y="400" width="1" height="23" fill="#6b6b6b"/>
<rect x="752" y="403" width="3" height="8" fill="#1e4d2e"/>
<rect x="753" y="404" width="1" height="6" fill="#5aa275"/>
<rect x="757" y="367" width="1" height="37" fill="#6b6b6b"/>
<rect x="756" y="368" width="3" height="36" fill="#1e4d2e"/>
<rect x="757" y="369" width="1" height="34" fill="#5aa275"/>
<rect x="761" y="353" width="1" height="21" fill="#6b6b6b"/>
<rect x="760" y="358" width="3" height="11" fill="#1e4d2e"/>
<rect x="761" y="359" width="1" height="9" fill="#5aa275"/>
<rect x="765" y="351" width="1" height="15" fill="#6b6b6b"/>
<rect x="764" y="355" width="3" height="4" fill="#1e4d2e"/>
<rect x="765" y="356" width="1" height="2" fill="#5aa275"/>
<rect x="769" y="336" width="1" height="38" fill="#6b6b6b"/>
<rect x="768" y="355" width="3" height="19" fill="#561a10"/>
<rect x="769" y="356" width="1" height="17" fill="#dc5640"/>
<rect x="772" y="371" width="1" height="22" fill="#6b6b6b"/>
<rect x="771" y="373" width="3" height="5" fill="#561a10"/>
<rect x="772" y="374" width="1" height="3" fill="#dc5640"/>
<rect x="776" y="377" width="1" height="29" fill="#6b6b6b"/>
<rect x="775" y="377" width="3" height="24" fill="#561a10"/>
<rect x="776" y="378" width="1" height="22" fill="#dc5640"/>
<rect x="780" y="390" width="1" height="18" fill="#6b6b6b"/>
<rect x="779" y="400" width="3" height="5" fill="#561a10"/>
<rect x="780" y="401" width="1" height="3" fill="#dc5640"/>
<rect x="784" y="387" width="1" height="26" fill="#6b6b6b"/>
<rect x="783" y="404" width="3" height="8" fill="#561a10"/>
<rect x="784" y="405" width="1" height="6" fill="#dc5640"/>
<rect x="788" y="408" width="1" height="41" fill="#6b6b6b"/>
<rect x="787" y="411" width="3" height="33" fill="#561a10"/>
<rect x="788" y="412" width="1" height="31" fill="#dc5640"/>
<rect x="791" y="439" width="1" height="40" fill="#6b6b6b"/>
<rect x="790" y="443" width="3" height="15" fill="#561a10"/>
<rect x="791" y="444" width="1" height="13" fill="#dc5640"/>
<rect x="795" y="433" width="1" height="33" fill="#6b6b6b"/>
<rect x="794" y="435" width="3" height="23" fill="#1e4d2e"/>
<rect x="795" y="436" width="1" height="21" fill="#5aa275"/>
<rect x="799" y="406" width="1" height="31" fill="#6b6b6b"/>
<rect x="798" y="418" width="3" height="18" fill="#1e4d2e"/>
<rect x="799" y="419" width="1" height="16" fill="#5aa275"/>
<rect x="803" y="404" width="1" height="23" fill="#6b6b6b"/>
<rect x="802" y="407" width="3" height="12" fill="#1e4d2e"/>
<rect x="803" y="408" width="1" height="10" fill="#5aa275"/>
<rect x="807" y="403" width="1" height="34" fill="#6b6b6b"/>
<rect x="806" y="407" width="3" height="30" fill="#561a10"/>
<rect x="807" y="408" width="1" height="28" fill="#dc5640"/>
<rect x="810" y="433" width="1" height="23" fill="#6b6b6b"/>
<rect x="809" y="436" width="3" height="12" fill="#561a10"/>
<rect x="810" y="437" width="1" height="10" fill="#dc5640"/>
<rect x="814" y="409" width="1" height="83" fill="#6b6b6b"/>
<rect x="813" y="413" width="3" height="35" fill="#1e4d2e"/>
<rect x="814" y="414" width="1" height="33" fill="#5aa275"/>
<rect x="818" y="363" width="1" height="61" fill="#6b6b6b"/>
<rect x="817" y="374" width="3" height="40" fill="#1e4d2e"/>
<rect x="818" y="375" width="1" height="38" fill="#5aa275"/>
<rect x="822" y="349" width="1" height="50" fill="#6b6b6b"/>
<rect x="821" y="374" width="3" height="17" fill="#561a10"/>
<rect x="822" y="375" width="1" height="15" fill="#dc5640"/>
<rect x="826" y="391" width="1" height="49" fill="#6b6b6b"/>
<rect x="825" y="391" width="3" height="23" fill="#561a10"/>
<rect x="826" y="392" width="1" height="21" fill="#dc5640"/>
<rect x="829" y="366" width="1" height="57" fill="#6b6b6b"/>
<rect x="828" y="388" width="3" height="26" fill="#1e4d2e"/>
<rect x="829" y="389" width="1" height="24" fill="#5aa275"/>
<rect x="833" y="388" width="1" height="42" fill="#6b6b6b"/>
<rect x="832" y="388" width="3" height="32" fill="#561a10"/>
<rect x="833" y="389" width="1" height="30" fill="#dc5640"/>
<rect x="837" y="414" width="1" height="40" fill="#6b6b6b"/>
<rect x="836" y="420" width="3" height="31" fill="#561a10"/>
<rect x="837" y="421" width="1" height="29" fill="#dc5640"/>
<rect x="841" y="448" width="1" height="65" fill="#6b6b6b"/>
<rect x="840" y="451" width="3" height="32" fill="#561a10"/>
<rect x="841" y="452" width="1" height="30" fill="#dc5640"/>
<rect x="845" y="465" width="1" height="30" fill="#6b6b6b"/>
<rect x="844" y="476" width="3" height="7" fill="#1e4d2e"/>
<rect x="845" y="477" width="1" height="5" fill="#5aa275"/>
<rect x="848" y="458" width="1" height="46" fill="#6b6b6b"/>
<rect x="847" y="476" width="3" height="28" fill="#561a10"/>
<rect x="848" y="477" width="1" height="26" fill="#dc5640"/>
<rect x="852" y="483" width="1" height="41" fill="#6b6b6b"/>
<rect x="851" y="499" width="3" height="5" fill="#1e4d2e"/>
<rect x="852" y="500" width="1" height="3" fill="#5aa275"/>
<rect x="856" y="465" width="1" height="34" fill="#6b6b6b"/>
<rect x="855" y="468" width="3" height="31" fill="#1e4d2e"/>
<rect x="856" y="469" width="1" height="29" fill="#5aa275"/>
<rect x="860" y="455" width="1" height="29" fill="#6b6b6b"/>
<rect x="859" y="468" width="3" height="6" fill="#561a10"/>
<rect x="860" y="469" width="1" height="4" fill="#dc5640"/>
<rect x="864" y="467" width="1" height="25" fill="#6b6b6b"/>
<rect x="863" y="474" width="3" height="10" fill="#561a10"/>
<rect x="864" y="475" width="1" height="8" fill="#dc5640"/>
<rect x="867" y="478" width="1" height="22" fill="#6b6b6b"/>
<rect x="866" y="483" width="3" height="8" fill="#561a10"/>
<rect x="867" y="484" width="1" height="6" fill="#dc5640"/>
<rect x="871" y="476" width="1" height="35" fill="#6b6b6b"/>
<rect x="870" y="479" width="3" height="12" fill="#1e4d2e"/>
<rect x="871" y="480" width="1" height="10" fill="#5aa275"/>
<rect x="875" y="468" width="1" height="34" fill="#6b6b6b"/>
<rect x="874" y="479" width="3" height="20" fill="#561a10"/>
<rect x="875" y="480" width="1" height="18" fill="#dc5640"/>
<rect x="879" y="486" width="1" height="36" fill="#6b6b6b"/>
<rect x="878" y="499" width="3" height="20" fill="#561a10"/>
<rect x="879" y="500" width="1" height="18" fill="#dc5640"/>
<rect x="883" y="504" width="1" height="36" fill="#6b6b6b"/>
<rect x="882" y="518" width="3" height="13" fill="#561a10"/>
<rect x="883" y="519" width="1" height="11" fill="#dc5640"/>
<rect x="887" y="491" width="1" height="47" fill="#6b6b6b"/>
<rect x="886" y="494" width="3" height="37" fill="#1e4d2e"/>
<rect x="887" y="495" width="1" height="35" fill="#5aa275"/>
<rect x="890" y="454" width="1" height="47" fill="#6b6b6b"/>
<rect x="889" y="456" width="3" height="38" fill="#1e4d2e"/>
<rect x="890" y="457" width="1" height="36" fill="#5aa275"/>
<rect x="894" y="397" width="1" height="60" fill="#6b6b6b"/>
<rect x="893" y="398" width="3" height="59" fill="#1e4d2e"/>
<rect x="894" y="399" width="1" height="57" fill="#5aa275"/>
<rect x="898" y="398" width="1" height="50" fill="#6b6b6b"/>
<rect x="897" y="398" width="3" height="41" fill="#561a10"/>
<rect x="898" y="399" width="1" height="39" fill="#dc5640"/>
<rect x="902" y="428" width="1" height="36" fill="#6b6b6b"/>
<rect x="901" y="439" width="3" height="17" fill="#561a10"/>
<rect x="902" y="440" width="1" height="15" fill="#dc5640"/>
<rect x="906" y="429" width="1" height="40" fill="#6b6b6b"/>
<rect x="905" y="455" width="3" height="4" fill="#561a10"/>
<rect x="906" y="456" width="1" height="2" fill="#dc5640"/>
<rect x="909" y="456" width="1" height="38" fill="#6b6b6b"/>
<rect x="908" y="459" width="3" height="32" fill="#561a10"/>
<rect x="909" y="460" width="1" height="30" fill="#dc5640"/>
<rect x="913" y="480" width="1" height="29" fill="#6b6b6b"/>
<rect x="912" y="491" width="3" height="17" fill="#561a10"/>
<rect x="913" y="492" width="1" height="15" fill="#dc5640"/>
<rect x="917" y="460" width="1" height="60" fill="#6b6b6b"/>
<rect x="916" y="473" width="3" height="35" fill="#1e4d2e"/>
<rect x="917" y="474" width="1" height="33" fill="#5aa275"/>
<rect x="921" y="428" width="1" height="54" fill="#6b6b6b"/>
<rect x="920" y="445" width="3" height="29" fill="#1e4d2e"/>
<rect x="921" y="446" width="1" height="27" fill="#5aa275"/>
<rect x="925" y="366" width="1" height="98" fill="#6b6b6b"/>
<rect x="924" y="378" width="3" height="68" fill="#1e4d2e"/>
<rect x="925" y="379" width="1" height="66" fill="#5aa275"/>
<rect x="928" y="364" width="1" height="67" fill="#6b6b6b"/>
<rect x="927" y="378" width="3" height="36" fill="#561a10"/>
<rect x="928" y="379" width="1" height="34" fill="#dc5640"/>
<rect x="932" y="381" width="1" height="51" fill="#6b6b6b"/>
<rect x="931" y="394" width="3" height="20" fill="#1e4d2e"/>
<rect x="932" y="395" width="1" height="18" fill="#5aa275"/>
<rect x="936" y="382" width="1" height="47" fill="#6b6b6b"/>
<rect x="935" y="394" width="3" height="28" fill="#561a10"/>
<rect x="936" y="395" width="1" height="26" fill="#dc5640"/>
<rect x="940" y="408" width="1" height="41" fill="#6b6b6b"/>
<rect x="939" y="421" width="3" height="25" fill="#561a10"/>
<rect x="940" y="422" width="1" height="23" fill="#dc5640"/>
<rect x="944" y="424" width="1" height="57" fill="#6b6b6b"/>
<rect x="943" y="426" width="3" height="20" fill="#1e4d2e"/>
<rect x="944" y="427" width="1" height="18" fill="#5aa275"/>
<rect x="947" y="391" width="1" height="36" fill="#6b6b6b"/>
<rect x="946" y="412" width="3" height="15" fill="#1e4d2e"/>
<rect x="947" y="413" width="1" height="13" fill="#5aa275"/>
<rect x="951" y="406" width="1" height="38" fill="#6b6b6b"/>
<rect x="950" y="412" width="3" height="25" fill="#561a10"/>
<rect x="951" y="413" width="1" height="23" fill="#dc5640"/>
<rect x="955" y="410" width="1" height="46" fill="#6b6b6b"/>
<rect x="954" y="415" width="3" height="22" fill="#1e4d2e"/>
<rect x="955" y="416" width="1" height="20" fill="#5aa275"/>
<rect x="959" y="387" width="1" height="50" fill="#6b6b6b"/>
<rect x="958" y="415" width="3" height="19" fill="#561a10"/>
<rect x="959" y="416" width="1" height="17" fill="#dc5640"/>
<rect x="963" y="386" width="1" height="48" fill="#6b6b6b"/>
<rect x="962" y="392" width="3" height="42" fill="#1e4d2e"/>
<rect x="963" y="393" width="1" height="40" fill="#5aa275"/>
<rect x="966" y="329" width="1" height="65" fill="#6b6b6b"/>
<rect x="965" y="356" width="3" height="37" fill="#1e4d2e"/>
<rect x="966" y="357" width="1" height="35" fill="#5aa275"/>
<rect x="970" y="347" width="1" height="19" fill="#6b6b6b"/>
<rect x="969" y="356" width="3" height="5" fill="#561a10"/>
<rect x="970" y="357" width="1" height="3" fill="#dc5640"/>
</g>
<g shape-rendering="crispEdges">
<rect x="0" y="273" width="1226" height="1" fill="#ff0000"/>
<rect x="0" y="334" width="1226" height="1" fill="#ff0000"/>
<rect x="0" y="437" width="1226" height="1" fill="#2d5a27"/>
<line x1="0" y1="361.5" x2="1226" y2="361.5" stroke="#d64a36" stroke-width="1" stroke-dasharray="2 1"/>
</g>
<line x1="193.8" y1="141.2" x2="627.2" y2="18.2" stroke="#a6a6a6" stroke-width="1"/>
<line x1="232.9" y1="332.7" x2="707.6" y2="198.4" stroke="#a6a6a6" stroke-width="1"/>
<line x1="483.2" y1="59.7" x2="1035" y2="527.6" stroke="#131722" stroke-width="1.15"/>
<text x="9" y="23" font-size="15" fill="#505050">CFDs on Natural Gas · 1D ·</text>
<text x="9" y="46" font-size="12.5" fill="#505050">MA 50 close</text>
<text x="86.5" y="46" font-size="12.5" fill="#f57f22">1.745</text>
<g shape-rendering="crispEdges">
<rect x="0" y="589" width="1280" height="1" fill="#4a4a4a"/>
<rect x="0" y="653" width="1280" height="1" fill="#4a4a4a"/>
<rect x="1226" y="0" width="1" height="680" fill="#4a4a4a"/>
</g>
<g shape-rendering="crispEdges">
<rect x="0" y="607" width="1226" height="30" fill="#e8d4fc"/>
<line x1="0" y1="606.5" x2="1226" y2="606.5" stroke="#555" stroke-width="1" stroke-dasharray="5 6"/>
<line x1="0" y1="637.5" x2="1226" y2="637.5" stroke="#555" stroke-width="1" stroke-dasharray="5 6"/>
</g>
<path d="M0.00,596.80 C0.68,596.80 5.63,596.51 6.80,596.80 C7.97,597.09 10.43,599.12 11.70,599.70 C12.97,600.28 18.13,602.21 19.50,602.60 C20.87,602.99 24.42,603.11 25.40,603.60 C26.38,604.09 28.42,605.74 29.30,607.50 C30.18,609.26 33.23,619.55 34.20,621.20 C35.17,622.85 37.83,623.12 39.00,624.00 C40.17,624.88 44.72,629.26 45.90,630.00 C47.08,630.74 49.73,630.81 50.80,631.40 C51.87,631.99 55.63,634.48 56.60,635.90 C57.57,637.32 59.32,644.53 60.50,645.60 C61.68,646.67 66.83,646.60 68.40,646.60 C69.97,646.60 74.84,646.38 76.20,645.60 C77.56,644.82 80.83,640.22 82.00,638.80 C83.17,637.38 86.92,632.14 87.90,631.40 C88.88,630.66 90.82,631.74 91.80,631.40 C92.78,631.06 96.53,628.92 97.70,628.00 C98.87,627.08 102.33,622.40 103.50,622.20 C104.67,622.00 108.32,624.15 109.40,626.00 C110.48,627.85 113.33,640.79 114.30,640.70 C115.27,640.61 118.03,629.00 119.10,625.10 C120.17,621.20 123.63,604.34 125.00,601.70 C126.37,599.06 131.24,598.51 132.80,598.70 C134.36,598.89 139.23,602.72 140.60,603.60 C141.97,604.48 145.33,607.50 146.50,607.50 C147.67,607.50 150.93,604.67 152.30,603.60 C153.67,602.53 158.63,597.38 160.20,596.80 C161.77,596.22 166.44,597.31 168.00,597.80 C169.56,598.29 174.44,599.75 175.80,601.70 C177.16,603.65 180.23,613.79 181.60,617.30 C182.97,620.81 188.13,634.85 189.50,636.80 C190.87,638.75 194.13,636.70 195.30,636.80 C196.47,636.90 199.83,636.92 201.20,637.80 C202.57,638.68 207.64,644.82 209.00,645.60 C210.36,646.38 213.63,646.48 214.80,645.60 C215.97,644.72 219.33,638.95 220.70,636.80 C222.07,634.65 227.13,624.78 228.50,624.10 C229.87,623.42 233.23,629.02 234.40,630.00 C235.57,630.98 238.64,634.78 240.20,633.90 C241.76,633.02 248.24,623.64 250.00,621.20 C251.76,618.76 256.53,611.65 257.80,609.50 C259.07,607.35 261.33,600.58 262.70,599.70 C264.07,598.82 269.84,599.92 271.50,600.70 C273.16,601.48 277.93,605.74 279.30,607.50 C280.67,609.26 283.83,618.20 285.20,618.30 C286.57,618.40 291.83,610.16 293.00,608.50 C294.17,606.84 296.12,602.42 296.90,601.70 C297.68,600.98 300.02,601.73 300.80,601.30 C301.58,600.87 303.14,597.85 304.70,597.40 C306.26,596.95 314.06,596.86 316.40,596.80 C318.74,596.74 326.34,596.41 328.10,596.80 C329.86,597.19 332.83,599.73 334.00,600.70 C335.17,601.67 338.63,606.17 339.80,606.50 C340.97,606.83 344.62,604.19 345.70,604.00 C346.78,603.81 349.62,604.05 350.60,604.60 C351.58,605.15 354.43,607.26 355.50,609.50 C356.57,611.74 360.23,623.29 361.30,627.00 C362.37,630.71 365.22,644.64 366.20,646.60 C367.18,648.56 368.46,646.56 371.10,646.60 C373.74,646.64 389.87,647.68 392.60,647.00 C395.33,646.32 397.23,640.81 398.40,639.75 C399.57,638.69 403.12,636.60 404.30,636.40 C405.48,636.20 408.73,637.07 410.20,637.80 C411.67,638.53 417.83,643.41 419.00,643.70 C420.17,643.99 421.03,642.75 421.90,640.70 C422.77,638.65 426.53,626.91 427.70,623.20 C428.87,619.49 432.62,605.56 433.60,603.60 C434.58,601.64 436.52,603.11 437.50,603.60 C438.48,604.09 442.23,607.17 443.40,608.50 C444.57,609.83 448.13,616.90 449.20,616.90 C450.27,616.90 452.93,610.22 454.10,608.50 C455.27,606.78 459.53,600.87 460.90,599.70 C462.27,598.53 466.62,596.84 467.80,596.80 C468.98,596.76 471.63,599.01 472.70,599.30 C473.77,599.59 477.43,599.95 478.50,599.70 C479.57,599.45 482.42,596.90 483.40,596.80 C484.38,596.70 487.13,597.82 488.30,598.70 C489.47,599.58 493.93,603.64 495.10,605.60 C496.27,607.56 498.92,615.86 500.00,618.30 C501.08,620.74 504.73,628.15 505.90,630.00 C507.07,631.85 510.53,635.53 511.70,636.80 C512.87,638.07 516.43,641.96 517.60,642.70 C518.77,643.45 522.33,644.35 523.40,644.25 C524.47,644.15 527.32,642.74 528.30,641.70 C529.28,640.67 532.13,634.48 533.20,633.90 C534.27,633.32 537.92,634.83 539.00,635.90 C540.08,636.97 543.02,643.49 544.00,644.60 C544.98,645.71 547.83,646.80 548.80,647.00 C549.77,647.20 552.72,647.33 553.70,646.60 C554.68,645.88 557.23,641.71 558.60,639.75 C559.97,637.79 565.94,627.77 567.40,627.00 C568.86,626.23 572.13,630.73 573.20,632.00 C574.27,633.27 577.12,638.58 578.10,639.75 C579.08,640.92 581.92,645.17 583.00,643.70 C584.08,642.24 587.82,628.62 588.90,625.10 C589.98,621.58 592.68,610.45 593.75,608.50 C594.82,606.55 598.43,605.35 599.60,605.60 C600.77,605.85 604.33,610.22 605.50,611.00 C606.67,611.78 610.13,612.38 611.30,613.40 C612.47,614.42 616.22,620.32 617.20,621.20 C618.18,622.08 620.32,622.63 621.10,622.20 C621.88,621.77 624.32,617.43 625.00,616.90 C625.68,616.37 626.92,615.10 627.90,616.90 C628.88,618.70 633.63,632.32 634.80,634.90 C635.97,637.48 638.72,642.02 639.60,642.70 C640.48,643.38 642.52,642.97 643.60,641.70 C644.68,640.43 649.23,631.66 650.40,630.00 C651.57,628.34 654.32,626.76 655.30,625.10 C656.28,623.44 659.13,615.51 660.20,613.40 C661.27,611.29 664.83,603.22 666.00,604.00 C667.17,604.78 670.73,617.33 671.90,621.20 C673.07,625.07 676.73,640.12 677.70,642.70 C678.67,645.28 680.42,646.65 681.60,647.00 C682.78,647.35 687.74,646.44 689.50,646.20 C691.26,645.96 697.25,645.54 699.20,644.60 C701.15,643.66 707.63,637.62 709.00,636.80 C710.37,635.98 711.83,636.11 712.90,636.40 C713.97,636.69 718.53,641.47 719.70,639.75 C720.87,638.03 723.52,623.25 724.60,619.25 C725.68,615.25 729.52,601.37 730.50,599.70 C731.48,598.04 733.62,601.23 734.40,602.60 C735.18,603.97 737.52,611.64 738.30,613.40 C739.08,615.16 741.32,620.20 742.20,620.20 C743.08,620.20 746.32,614.77 747.10,613.40 C747.88,612.03 749.32,607.87 750.00,606.50 C750.68,605.13 753.12,600.42 753.90,599.70 C754.68,598.98 757.02,599.59 757.80,599.30 C758.58,599.01 760.92,597.05 761.70,596.80 C762.48,596.55 764.82,596.51 765.60,596.80 C766.38,597.09 768.72,599.02 769.50,599.70 C770.28,600.38 772.62,602.33 773.40,603.60 C774.18,604.87 775.93,610.25 777.30,612.40 C778.67,614.55 785.63,622.75 787.10,625.10 C788.57,627.45 791.12,634.57 792.00,635.90 C792.88,637.23 794.83,639.77 795.90,638.40 C796.97,637.03 801.63,624.02 802.70,622.20 C803.77,620.38 805.82,620.01 806.60,620.20 C807.38,620.39 809.71,623.80 810.50,624.10 C811.29,624.40 813.32,625.15 814.50,623.20 C815.68,621.25 821.04,606.40 822.30,604.60 C823.56,602.80 825.74,604.32 827.10,605.20 C828.46,606.08 834.24,611.02 835.90,613.40 C837.56,615.78 842.18,625.88 843.75,629.00 C845.32,632.12 850.62,643.04 851.60,644.60 C852.58,646.16 852.23,646.06 853.50,644.60 C854.77,643.14 862.74,631.17 864.30,630.00 C865.86,628.83 867.64,632.41 869.10,632.90 C870.56,633.39 877.53,633.96 878.90,634.90 C880.27,635.84 882.02,643.19 882.80,642.30 C883.58,641.41 885.53,630.55 886.70,626.00 C887.87,621.45 893.13,599.23 894.50,596.80 C895.87,594.37 899.23,600.04 900.40,601.70 C901.57,603.36 904.89,611.16 906.25,613.40 C907.61,615.64 912.83,622.93 914.00,624.10 C915.17,625.27 916.82,626.66 918.00,625.10 C919.18,623.54 924.34,610.81 925.80,608.50 C927.26,606.19 931.43,602.10 932.60,602.00 C933.77,601.90 936.33,605.68 937.50,607.50 C938.67,609.32 942.54,619.12 944.30,620.20 C946.06,621.28 953.63,618.20 955.10,618.30 C956.57,618.40 957.54,622.67 959.00,621.20 C960.46,619.73 968.53,605.52 969.70,603.60 C970.87,601.68 970.60,602.16 970.70,602.00" fill="none" stroke="#2196f3" stroke-width="1.1"/>
<path d="M0.00,601.70 C0.59,601.31 4.34,597.90 5.90,597.80 C7.46,597.70 13.65,600.02 15.60,600.70 C17.55,601.38 23.83,603.72 25.40,604.60 C26.96,605.48 30.08,608.03 31.25,609.50 C32.42,610.97 35.73,617.60 37.10,619.25 C38.47,620.90 43.14,624.73 44.90,626.00 C46.66,627.27 53.14,630.62 54.70,632.00 C56.26,633.38 59.13,638.33 60.50,639.75 C61.87,641.17 66.83,645.56 68.40,646.20 C69.97,646.85 74.64,646.85 76.20,646.20 C77.76,645.56 82.44,640.98 84.00,639.75 C85.56,638.52 90.04,635.07 91.80,633.90 C93.56,632.73 100.04,628.92 101.60,628.00 C103.16,627.08 106.33,624.50 107.40,624.70 C108.47,624.90 111.32,628.88 112.30,630.00 C113.28,631.12 115.93,637.56 117.20,635.90 C118.47,634.24 123.63,616.82 125.00,613.40 C126.37,609.98 129.73,603.07 130.90,601.70 C132.07,600.33 135.34,599.51 136.70,599.70 C138.06,599.89 142.74,603.01 144.50,603.60 C146.26,604.19 152.54,606.18 154.30,605.60 C156.06,605.02 160.54,598.49 162.10,597.80 C163.66,597.11 168.34,598.12 169.90,598.70 C171.46,599.28 176.14,601.15 177.70,603.60 C179.26,606.05 183.93,619.88 185.50,623.20 C187.07,626.52 191.83,635.44 193.40,636.80 C194.97,638.16 199.64,636.21 201.20,636.80 C202.76,637.39 207.64,641.82 209.00,642.70 C210.36,643.58 213.43,645.89 214.80,645.60 C216.17,645.31 221.13,641.41 222.70,639.75 C224.27,638.09 229.14,630.27 230.50,629.00 C231.86,627.73 235.13,626.90 236.30,627.00 C237.47,627.10 240.83,630.10 242.20,630.00 C243.57,629.90 248.44,627.47 250.00,626.00 C251.56,624.53 256.43,617.34 257.80,615.30 C259.17,613.26 262.53,607.06 263.70,605.60 C264.87,604.14 268.14,600.90 269.50,600.70 C270.86,600.50 275.64,602.33 277.30,603.60 C278.96,604.87 284.53,612.52 286.10,613.40 C287.67,614.28 291.53,613.18 293.00,612.40 C294.47,611.62 299.44,606.87 300.80,605.60 C302.16,604.33 305.23,600.52 306.60,599.70 C307.97,598.88 312.35,597.63 314.50,597.40 C316.65,597.17 325.96,597.17 328.10,597.40 C330.24,597.63 334.53,598.79 335.90,599.70 C337.27,600.61 340.62,605.95 341.80,606.50 C342.98,607.05 346.53,605.20 347.70,605.20 C348.87,605.20 352.33,605.10 353.50,606.50 C354.67,607.90 358.23,616.22 359.40,619.25 C360.57,622.28 364.03,634.16 365.20,636.80 C366.37,639.43 368.95,644.58 371.10,645.60 C373.25,646.62 384.55,646.86 386.70,647.00 C388.85,647.14 391.23,647.63 392.60,647.00 C393.97,646.37 399.03,641.68 400.40,640.70 C401.76,639.72 404.89,637.30 406.25,637.20 C407.61,637.11 412.44,639.30 414.00,639.75 C415.56,640.20 420.53,642.78 421.90,641.70 C423.27,640.62 426.34,632.52 427.70,629.00 C429.06,625.48 434.13,608.94 435.50,606.50 C436.87,604.06 439.83,604.01 441.40,604.60 C442.97,605.19 449.64,611.91 451.20,612.40 C452.76,612.89 455.64,610.77 457.00,609.50 C458.36,608.23 463.43,600.83 464.80,599.70 C466.17,598.57 469.13,598.24 470.70,598.20 C472.27,598.16 478.84,599.34 480.50,599.30 C482.16,599.26 485.94,597.56 487.30,597.80 C488.66,598.04 492.83,600.53 494.10,601.70 C495.37,602.87 498.82,607.35 500.00,609.50 C501.18,611.65 504.73,620.76 505.90,623.20 C507.07,625.64 510.34,632.25 511.70,633.90 C513.06,635.55 517.94,638.77 519.50,639.75 C521.06,640.73 525.44,644.09 527.30,643.70 C529.16,643.32 536.63,636.59 538.10,635.90 C539.57,635.21 540.54,635.73 542.00,636.80 C543.46,637.87 551.04,645.91 552.70,646.60 C554.36,647.29 556.84,645.36 558.60,643.70 C560.36,642.04 568.54,631.17 570.30,630.00 C572.06,628.83 574.83,631.02 576.20,632.00 C577.57,632.98 582.64,639.46 584.00,639.75 C585.36,640.04 588.63,636.95 589.80,634.90 C590.97,632.85 594.52,622.09 595.70,619.25 C596.88,616.41 600.23,607.51 601.60,606.50 C602.97,605.49 608.04,608.31 609.40,609.10 C610.76,609.89 614.03,613.29 615.20,614.40 C616.37,615.51 619.92,619.81 621.10,620.20 C622.28,620.59 625.93,618.30 627.00,618.30 C628.07,618.30 630.63,618.74 631.80,620.20 C632.97,621.66 637.43,630.85 638.70,632.90 C639.97,634.95 642.94,641.09 644.50,640.70 C646.06,640.31 652.15,632.16 654.30,629.00 C656.45,625.84 664.44,611.05 666.00,609.10 C667.56,607.15 669.12,608.68 669.90,609.50 C670.68,610.32 672.63,614.18 673.80,617.30 C674.97,620.42 680.23,637.77 681.60,640.70 C682.97,643.63 685.35,646.17 687.50,646.60 C689.65,647.03 700.56,645.82 703.10,645.00 C705.64,644.18 711.14,639.12 712.90,638.40 C714.66,637.68 719.14,639.91 720.70,637.80 C722.26,635.69 727.03,620.62 728.50,617.30 C729.97,613.98 734.03,604.89 735.40,604.60 C736.77,604.31 741.13,613.17 742.20,614.40 C743.27,615.63 745.32,616.81 746.10,616.90 C746.88,616.99 749.02,616.73 750.00,615.30 C750.98,613.87 754.73,604.35 755.90,602.60 C757.07,600.85 760.63,598.38 761.70,597.80 C762.77,597.22 765.62,596.61 766.60,596.80 C767.58,596.99 770.43,598.82 771.50,599.70 C772.57,600.58 775.74,603.45 777.30,605.60 C778.86,607.75 785.53,618.66 787.10,621.20 C788.67,623.74 791.83,629.63 793.00,631.00 C794.17,632.37 797.44,635.49 798.80,634.90 C800.16,634.31 805.23,626.31 806.60,625.10 C807.97,623.89 811.32,623.58 812.50,622.80 C813.68,622.02 816.84,619.02 818.40,617.30 C819.96,615.58 826.15,605.99 828.10,605.60 C830.05,605.21 836.14,611.06 837.90,613.40 C839.66,615.74 844.14,626.27 845.70,629.00 C847.26,631.73 852.33,639.43 853.50,640.70 C854.67,641.97 856.23,642.28 857.40,641.70 C858.57,641.12 863.83,635.82 865.20,634.90 C866.57,633.98 869.73,632.60 871.10,632.50 C872.47,632.40 877.53,633.47 878.90,633.90 C880.27,634.33 883.63,638.26 884.80,636.80 C885.97,635.33 889.24,622.67 890.60,619.25 C891.96,615.83 897.23,604.16 898.40,602.60 C899.57,601.04 901.32,602.52 902.30,603.60 C903.28,604.68 906.63,611.44 908.20,613.40 C909.77,615.36 916.44,622.52 918.00,623.20 C919.56,623.88 922.24,621.96 923.80,620.20 C925.36,618.44 932.23,606.97 933.60,605.60 C934.97,604.23 936.13,605.33 937.50,606.50 C938.87,607.67 945.74,616.02 947.30,617.30 C948.86,618.57 951.74,619.09 953.10,619.25 C954.46,619.41 959.14,619.91 960.90,618.90 C962.66,617.88 969.72,610.08 970.70,609.10" fill="none" stroke="#f4602c" stroke-width="1.1"/>
<rect x="4" y="597" width="232" height="21" fill="#ffffff" fill-opacity="0.5"/>
<text x="9" y="611" font-size="12.5" fill="#505050">Stoch RSI 3 3 14 14 close</text>
<text x="161.5" y="611" font-size="12.5" fill="#2196f3">88.17</text>
<text x="200" y="611" font-size="12.5" fill="#ff6d00">74.77</text>
<g shape-rendering="crispEdges">
<rect x="1227" y="53" width="4" height="1" fill="#4a4a4a"/>
<rect x="1227" y="89" width="4" height="1" fill="#4a4a4a"/>
<rect x="1227" y="126" width="4" height="1" fill="#4a4a4a"/>
<rect x="1227" y="163" width="4" height="1" fill="#4a4a4a"/>
<rect x="1227" y="200" width="4" height="1" fill="#4a4a4a"/>
<rect x="1227" y="237" width="4" height="1" fill="#4a4a4a"/>
<rect x="1227" y="311" width="4" height="1" fill="#4a4a4a"/>
<rect x="1227" y="348" width="4" height="1" fill="#4a4a4a"/>
<rect x="1227" y="385" width="4" height="1" fill="#4a4a4a"/>
<rect x="1227" y="421" width="4" height="1" fill="#4a4a4a"/>
<rect x="1227" y="458" width="4" height="1" fill="#4a4a4a"/>
<rect x="1227" y="495" width="4" height="1" fill="#4a4a4a"/>
<rect x="1227" y="532" width="4" height="1" fill="#4a4a4a"/>
<rect x="1227" y="569" width="4" height="1" fill="#4a4a4a"/>
</g>
<text x="1235.5" y="57.6" font-size="12" fill="#505050">2.800</text>
<text x="1235.5" y="94.5" font-size="12" fill="#505050">2.700</text>
<text x="1235.5" y="131.4" font-size="12" fill="#505050">2.600</text>
<text x="1235.5" y="168.3" font-size="12" fill="#505050">2.500</text>
<text x="1235.5" y="205.2" font-size="12" fill="#505050">2.400</text>
<text x="1235.5" y="242.0" font-size="12" fill="#505050">2.300</text>
<text x="1235.5" y="315.8" font-size="12" fill="#505050">2.100</text>
<text x="1235.5" y="352.7" font-size="12" fill="#505050">2.000</text>
<text x="1235.5" y="389.6" font-size="12" fill="#505050">1.900</text>
<text x="1235.5" y="426.5" font-size="12" fill="#505050">1.800</text>
<text x="1235.5" y="463.4" font-size="12" fill="#505050">1.700</text>
<text x="1235.5" y="500.3" font-size="12" fill="#505050">1.600</text>
<text x="1235.5" y="537.2" font-size="12" fill="#505050">1.500</text>
<text x="1235.5" y="574.1" font-size="12" fill="#505050">1.400</text>
<rect x="1235" y="7" width="36" height="18" rx="2" fill="#f0eff5"/>
<rect x="1227" y="16" width="4" height="1" fill="#4a4a4a"/>
<text x="1253" y="20" font-size="11" fill="#505050" text-anchor="middle">USD</text>
<rect x="1226" y="264" width="47" height="19" fill="#ff0000"/>
<rect x="1227" y="273" width="4" height="1" fill="#ffffff"/>
<text x="1249.5" y="278" font-size="12" font-weight="bold" fill="#ffffff" text-anchor="middle">2.204</text>
<rect x="1226" y="325" width="47" height="19" fill="#ff0000"/>
<rect x="1227" y="334" width="4" height="1" fill="#ffffff"/>
<text x="1249.5" y="339" font-size="12" font-weight="bold" fill="#ffffff" text-anchor="middle">2.039</text>
<rect x="1226" y="352" width="47" height="19" fill="#d65443"/>
<rect x="1227" y="361" width="4" height="1" fill="#ffffff"/>
<text x="1249.5" y="366" font-size="12" font-weight="bold" fill="#ffffff" text-anchor="middle">1.964</text>
<rect x="1226" y="428" width="47" height="19" fill="#264d16"/>
<rect x="1227" y="437" width="4" height="1" fill="#ffffff"/>
<text x="1249.5" y="442" font-size="12" font-weight="bold" fill="#ffffff" text-anchor="middle">1.758</text>
<rect x="1227" y="596" width="4" height="1" fill="#4a4a4a"/>
<rect x="1227" y="647" width="4" height="1" fill="#4a4a4a"/>
<text x="1235.5" y="601" font-size="12" fill="#505050">100.00</text>
<text x="1235.5" y="652" font-size="12" fill="#505050">0.00</text>
<g shape-rendering="crispEdges">
<rect x="61" y="654" width="1" height="4" fill="#4a4a4a"/>
<rect x="224" y="654" width="1" height="4" fill="#4a4a4a"/>
<rect x="308" y="654" width="1" height="4" fill="#4a4a4a"/>
<rect x="392" y="654" width="1" height="4" fill="#4a4a4a"/>
<rect x="476" y="654" width="1" height="4" fill="#4a4a4a"/>
<rect x="635" y="654" width="1" height="4" fill="#4a4a4a"/>
<rect x="719" y="654" width="1" height="4" fill="#4a4a4a"/>
<rect x="879" y="654" width="1" height="4" fill="#4a4a4a"/>
<rect x="1039" y="654" width="1" height="4" fill="#4a4a4a"/>
<rect x="1123" y="654" width="1" height="4" fill="#4a4a4a"/>
<rect x="1210" y="654" width="1" height="4" fill="#4a4a4a"/>
</g>
<text x="61.5" y="673" font-size="12" fill="#505050" text-anchor="middle">Jun</text>
<text x="224.6" y="673" font-size="12" fill="#505050" text-anchor="middle">Aug</text>
<text x="308.2" y="673" font-size="12" fill="#505050" text-anchor="middle">Sep</text>
<text x="392.2" y="673" font-size="12" fill="#505050" text-anchor="middle">2</text>
<text x="476.0" y="673" font-size="12" fill="#505050" text-anchor="middle">Nov</text>
<text x="635.6" y="673" font-size="12.5" fill="#505050" text-anchor="middle" font-weight="bold">2020</text>
<text x="719.4" y="673" font-size="12" fill="#505050" text-anchor="middle">Feb</text>
<text x="879.5" y="673" font-size="12" fill="#505050" text-anchor="middle">Apr</text>
<text x="1039.2" y="673" font-size="12" fill="#505050" text-anchor="middle">Jun</text>
<text x="1123.2" y="673" font-size="12" fill="#505050" text-anchor="middle">Jul</text>
<text x="1220" y="673" font-size="12" fill="#505050" text-anchor="end">Aug</text>
<g stroke="#131722" fill="none" stroke-width="1.15">
<circle cx="1253.7" cy="668.6" r="5"/>
<line x1="1258.70" y1="668.60" x2="1261.20" y2="668.60"/>
<line x1="1257.24" y1="672.14" x2="1259.00" y2="673.90"/>
<line x1="1253.70" y1="673.60" x2="1253.70" y2="676.10"/>
<line x1="1250.16" y1="672.14" x2="1248.40" y2="673.90"/>
<line x1="1248.70" y1="668.60" x2="1246.20" y2="668.60"/>
<line x1="1250.16" y1="665.06" x2="1248.40" y2="663.30"/>
<line x1="1253.70" y1="663.60" x2="1253.70" y2="661.10"/>
<line x1="1257.24" y1="665.06" x2="1259.00" y2="663.30"/>
</g>
<polyline points="1280.5,290 1275.8,294.3 1275.8,295.8 1279,295.8 1279,307 1275.8,307 1275.8,308.5 1280.5,312.8" fill="none" stroke="#2a2e39" stroke-width="1.1"/>
</svg></body></html>
